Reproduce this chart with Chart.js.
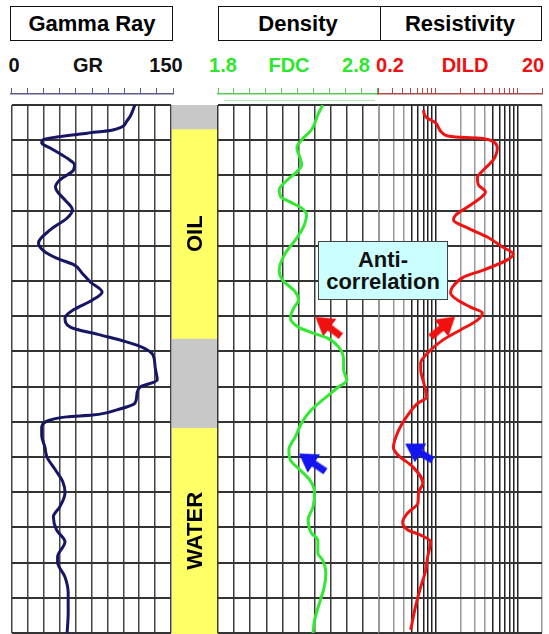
<!DOCTYPE html>
<html><head><meta charset="utf-8">
<script src="https://cdn.jsdelivr.net/npm/chart.js@4/dist/chart.umd.min.js"></script>
<style>
html,body{margin:0;padding:0;background:#fff;}
#wrap{position:relative;width:549px;height:634px;overflow:hidden;font-family:"Liberation Sans",Arial,sans-serif;}
.box{position:absolute;border:1.5px solid #111;box-sizing:border-box;}
.lbl{position:absolute;transform:translate(-50%,-50%);font-weight:bold;white-space:nowrap;line-height:1;}
canvas{position:absolute;}
#anti{position:absolute;left:318px;top:241px;width:130px;height:59px;box-sizing:border-box;background:#ccffff;border:1.5px solid #444;display:flex;flex-direction:column;justify-content:center;align-items:center;font-weight:bold;font-size:22px;line-height:22px;color:#111;z-index:5;}
</style></head><body>
<div id="wrap">
  <div class="box" style="left:10px;top:6px;width:163px;height:35px;"></div>
  <div class="box" style="left:218px;top:6px;width:163px;height:35px;"></div>
  <div class="box" style="left:379.5px;top:6px;width:162px;height:35px;"></div>
  <div class="lbl" style="left:92px;top:24px;font-size:22px;">Gamma Ray</div>
  <div class="lbl" style="left:298px;top:24px;font-size:22px;">Density</div>
  <div class="lbl" style="left:460px;top:24px;font-size:22px;">Resistivity</div>

  <div class="lbl" style="left:14px;top:65px;font-size:20px;color:#111;">0</div>
  <div class="lbl" style="left:88px;top:65px;font-size:20px;color:#111;">GR</div>
  <div class="lbl" style="left:166px;top:65px;font-size:20px;color:#111;">150</div>
  <div class="lbl" style="left:223px;top:65px;font-size:20px;color:#2ee62e;">1.8</div>
  <div class="lbl" style="left:289px;top:65px;font-size:20px;color:#2ee62e;">FDC</div>
  <div class="lbl" style="left:356px;top:65px;font-size:20px;color:#2ee62e;">2.8</div>
  <div class="lbl" style="left:390px;top:65px;font-size:20px;color:#ee1111;">0.2</div>
  <div class="lbl" style="left:465px;top:65px;font-size:20px;color:#ee1111;">DILD</div>
  <div class="lbl" style="left:533px;top:65px;font-size:20px;color:#ee1111;">20</div>

  <canvas id="rGR" width="164" height="7" style="left:10px;top:88px;"></canvas>
  <canvas id="rFDC" width="161" height="7" style="left:217px;top:88px;"></canvas>
  <canvas id="rDILD" width="166" height="7" style="left:377px;top:88px;"></canvas>
  <div style="position:absolute;left:224px;top:100px;width:151px;height:1px;background:rgba(120,220,120,0.6);"></div>

  <canvas id="cGR" width="163" height="532" style="left:10px;top:103px;"></canvas>
  <canvas id="cLith" width="46" height="529" style="left:172px;top:105px;"></canvas>
  <canvas id="cFDC" width="165" height="532" style="left:216px;top:103px;"></canvas>
  <canvas id="cDILD" width="167" height="532" style="left:377px;top:103px;"></canvas>

  <div id="anti"><div>Anti-</div><div>correlation</div></div>
</div>
<script>
// ---------- data ----------
const DEPTH_GRID = [0,10,20,30,40,50,60,70,80,90,100,110,120,130,140,150];
const GR_GRID = [0,15,30,45,60,75,90,105,120,135,150];
const FDC_GRID = [1.8,1.9,2.0,2.1,2.2,2.3,2.4,2.5,2.6,2.7,2.8];
const DILD_GRID = [0.2,0.3,0.4,0.5,0.6,0.7,0.8,0.9,1,2,3,4,5,6,7,8,9,10,20];
const DILD_DARK = [0.5,0.6,0.7,0.8,0.9,1,5,6,7,8,9,10];

const DEPTH_GR = [0,4.3,7.1,8.0,9.1,9.9,10.8,12.2,15.1,17.0,18.5,21.3,23.3,24.7,27.0,29.8,32.1,35.5,39.2,41.2,43.5,45.5,47.7,50.3,53.1,55.4,58.2,60.5,63.1,65.3,67.3,69.0,71.0,74.4,78.1,80.1,81.8,84.7,86.6,88.1,88.6,89.5,91.5,93.8,97.2,100.0,103.7,107.1,110.2,114.2,117.0,120.7,124.1,128.4,129.8,134.1,138.6,144.3,150.0];
const GR = [116,109,95,71,42,29,28,36,52,59,58,45,41,43,50,57,52,36,25,29,42,59,66,74,85,76,58,50,55,83,108,124,133,135,137,121,118,116,99,76,52,36,28,28,31,33,41,48,50,45,39,42,50,43,43,50,53,53,52];

const DEPTH_FDC = [0,2.8,7.1,9.9,12.2,15.1,17.0,19.0,21.3,24.1,26.1,27.6,29.3,31.3,34.7,38.4,42.0,46.9,49.7,53.1,55.4,57.7,60.5,63.1,64.8,66.2,68.8,72.4,75.3,78.1,80.4,83.8,86.6,90.3,94.3,98.0,100.9,103.7,106.5,110.2,114.2,117.9,121.6,123.6,127.3,129.3,133.0,136.9,141.5,146.3,150.0];
const FDC = [2.45,2.42,2.38,2.32,2.29,2.31,2.32,2.29,2.23,2.18,2.19,2.25,2.32,2.35,2.33,2.28,2.22,2.18,2.20,2.28,2.30,2.27,2.25,2.30,2.39,2.48,2.55,2.58,2.58,2.60,2.54,2.45,2.38,2.32,2.28,2.24,2.25,2.31,2.37,2.40,2.39,2.36,2.38,2.42,2.42,2.45,2.47,2.46,2.43,2.40,2.39];

const DEPTH_DILD = [1.4,3.4,5.1,8.0,9.1,9.4,10.5,12.2,15.6,18.5,20.7,22.7,24.7,26.4,29.0,31.3,32.7,34.9,37.5,40.3,42.3,44.0,46.9,48.9,51.7,53.4,55.4,57.4,59.1,61.1,63.9,66.8,70.2,73.3,75.3,79.0,83.0,84.7,88.1,92.3,97.4,99.4,102.8,107.4,110.2,113.1,115.9,118.5,120.7,122.2,124.1,128.4,132.1,136.9,142.6,149.1];
const DILD = [0.70,0.75,0.99,1.21,1.74,3.22,5.05,5.65,5.05,3.81,3.22,3.32,4.04,3.51,2.43,1.74,1.64,2.43,4.27,6.50,8.85,7.48,3.81,2.18,1.60,1.51,1.84,2.65,3.71,3.22,2.0,1.21,0.81,0.65,0.65,0.71,0.77,0.60,0.45,0.35,0.30,0.34,0.52,0.69,0.61,0.60,0.45,0.39,0.45,0.65,0.86,0.79,0.75,0.65,0.56,0.49];

const ZONE_TOPS = [0,6.8,66.2,91.5];
const ZONE_BOTTOMS = [6.8,66.2,91.5,150];
const ZONE_KIND = ['shale','oil','shale','water'];
const ZONE_LABELS = ['','OIL','','WATER'];

const ARROW_FDC_DEPTH = [63.1,101.7];
const ARROW_FDC_VAL = [2.489,2.39];
const ARROW_FDC_ANGLE = [217,214];
const ARROW_FDC_COLOR = ['red','blue'];
const ARROW_DILD_DEPTH = [63.2,98.7];
const ARROW_DILD_VAL = [1.19,0.632];
const ARROW_DILD_ANGLE = [320,211];
const ARROW_DILD_COLOR = ['red','blue'];

// ---------- styles ----------
const COLORS = {gr:'#161664', fdc:'#33e833', dild:'#ee1414', red:'#f01010', blue:'#1414ee',
  shale:'#c8c8c8', oil:'#ffff66', water:'#ffff66'};
const FONT = '"Liberation Sans", Arial, sans-serif';

function makeArrow(color){
  const c = document.createElement('canvas');
  c.width = 40; c.height = 40;
  const g = c.getContext('2d');
  g.translate(20,20);
  g.fillStyle = color;
  g.beginPath();
  g.moveTo(17,0); g.lineTo(-1,-11); g.lineTo(-1,-3.5); g.lineTo(-15,-3.5);
  g.lineTo(-15,3.5); g.lineTo(-1,3.5); g.lineTo(-1,11); g.closePath();
  g.fill();
  return c;
}
const ARROWS = {red: makeArrow(COLORS.red), blue: makeArrow(COLORS.blue)};

function fixedTicks(values){ return s => { s.ticks = values.map(v => ({value:v})); }; }
const zeroH = s => { s.height = 0; s.paddingLeft = s.paddingRight = s.paddingTop = s.paddingBottom = 0; };
const zeroW = s => { s.width = 0; s.paddingLeft = s.paddingRight = s.paddingTop = s.paddingBottom = 0; };

function yDepth(){
  return {type:'linear', min:0, max:150, reverse:true, afterBuildTicks: fixedTicks(DEPTH_GRID),
    afterFit: zeroW,
    ticks:{display:false}, grid:{color:'#333', lineWidth:2, drawTicks:false}, border:{display:false}};
}

function trackChart(id, xScale, depth, vals, color, arrows){
  xScale.afterFit = zeroH;
  const datasets = [{
    data: depth.map((d,i)=>({x: vals[i], y: d})),
    borderColor: color, borderWidth: 3, pointRadius: 0, pointHoverRadius: 0,
    cubicInterpolationMode: 'monotone', fill: false
  }];
  if (arrows){
    datasets.push({
      data: arrows.depth.map((d,i)=>({x: arrows.val[i], y: d})),
      showLine: false, pointRadius: 8, pointHoverRadius: 8,
      pointStyle: arrows.color.map(c => ARROWS[c]),
      pointRotation: arrows.angle
    });
  }
  return new Chart(document.getElementById(id), {
    type: 'line',
    data: {datasets},
    options: {
      indexAxis: 'y', animation: false, responsive: false, events: [],
      layout: {padding: 2, autoPadding: false},
      plugins: {legend:{display:false}, tooltip:{enabled:false}},
      scales: { x: xScale, y: yDepth() }
    }
  });
}

trackChart('cGR', {type:'linear', min:0, max:150, afterBuildTicks: fixedTicks(GR_GRID),
  ticks:{display:false}, grid:{color:'#444', lineWidth:1.5, drawTicks:false}, border:{display:false}},
  DEPTH_GR, GR, COLORS.gr);

trackChart('cFDC', {type:'linear', min:1.8, max:2.8, afterBuildTicks: fixedTicks(FDC_GRID),
  ticks:{display:false}, grid:{color:'#3a3a3a', lineWidth:1.5, drawTicks:false}, border:{display:false}},
  DEPTH_FDC, FDC, COLORS.fdc,
  {depth: ARROW_FDC_DEPTH, val: ARROW_FDC_VAL, angle: ARROW_FDC_ANGLE, color: ARROW_FDC_COLOR});

trackChart('cDILD', {type:'logarithmic', min:0.2, max:20, afterBuildTicks: fixedTicks(DILD_GRID),
  ticks:{display:false},
  grid:{color: ctx => (ctx.tick && DILD_DARK.includes(ctx.tick.value)) ? '#222' : '#999',
        lineWidth: 1.5, drawTicks:false}, border:{display:false}},
  DEPTH_DILD, DILD, COLORS.dild,
  {depth: ARROW_DILD_DEPTH, val: ARROW_DILD_VAL, angle: ARROW_DILD_ANGLE, color: ARROW_DILD_COLOR});

// lithology column
const zoneLabelPlugin = {
  id: 'zoneLabels',
  afterDatasetsDraw(chart){
    const ctx = chart.ctx;
    chart.data.datasets.forEach((ds,i) => {
      if (!ds.zoneLabel) return;
      const el = chart.getDatasetMeta(i).data[0];
      ctx.save();
      ctx.translate(el.x + 1, (el.y + el.base)/2);
      ctx.rotate(-Math.PI/2);
      ctx.font = 'bold 22px ' + FONT;
      ctx.fillStyle = '#000';
      ctx.textAlign = 'center';
      ctx.textBaseline = 'middle';
      ctx.fillText(ds.zoneLabel, 0, 0);
      ctx.restore();
    });
  }
};
new Chart(document.getElementById('cLith'), {
  type: 'bar',
  data: {
    labels: ['zone'],
    datasets: ZONE_TOPS.map((t,i) => ({
      data: [[t, ZONE_BOTTOMS[i]]],
      backgroundColor: COLORS[ZONE_KIND[i]],
      borderWidth: 0, barPercentage: 1, categoryPercentage: 1, grouped: false,
      zoneLabel: ZONE_LABELS[i]
    }))
  },
  options: {
    animation:false, responsive:false, events:[],
    layout:{padding:0, autoPadding:false},
    plugins:{legend:{display:false}, tooltip:{enabled:false}},
    scales:{
      x:{type:'category', display:false},
      y:{type:'linear', min:0, max:150, reverse:true, display:false}
    }
  },
  plugins:[zoneLabelPlugin]
});

// header rulers
function ruler(id, type, min, max, grid, color){
  new Chart(document.getElementById(id), {
    type:'line', data:{datasets:[]},
    options:{
      animation:false, responsive:false, events:[],
      layout:{padding:{left:1,right:1,top:0,bottom:1}, autoPadding:false},
      plugins:{legend:{display:false}, tooltip:{enabled:false}},
      scales:{
        x:{type, min, max, afterBuildTicks: fixedTicks(grid), afterFit: zeroH, ticks:{display:false},
           grid:{color, lineWidth:1, drawTicks:false}, border:{display:true, color, width:1.5}},
        y:{display:false, min:0, max:1}
      }
    }
  });
}
ruler('rGR', 'linear', 0, 150, GR_GRID, '#5a5a8c');
ruler('rFDC', 'linear', 1.8, 2.8, FDC_GRID, '#55cc55');
ruler('rDILD', 'logarithmic', 0.2, 20, DILD_GRID, '#b04848');
</script>
</body></html>
